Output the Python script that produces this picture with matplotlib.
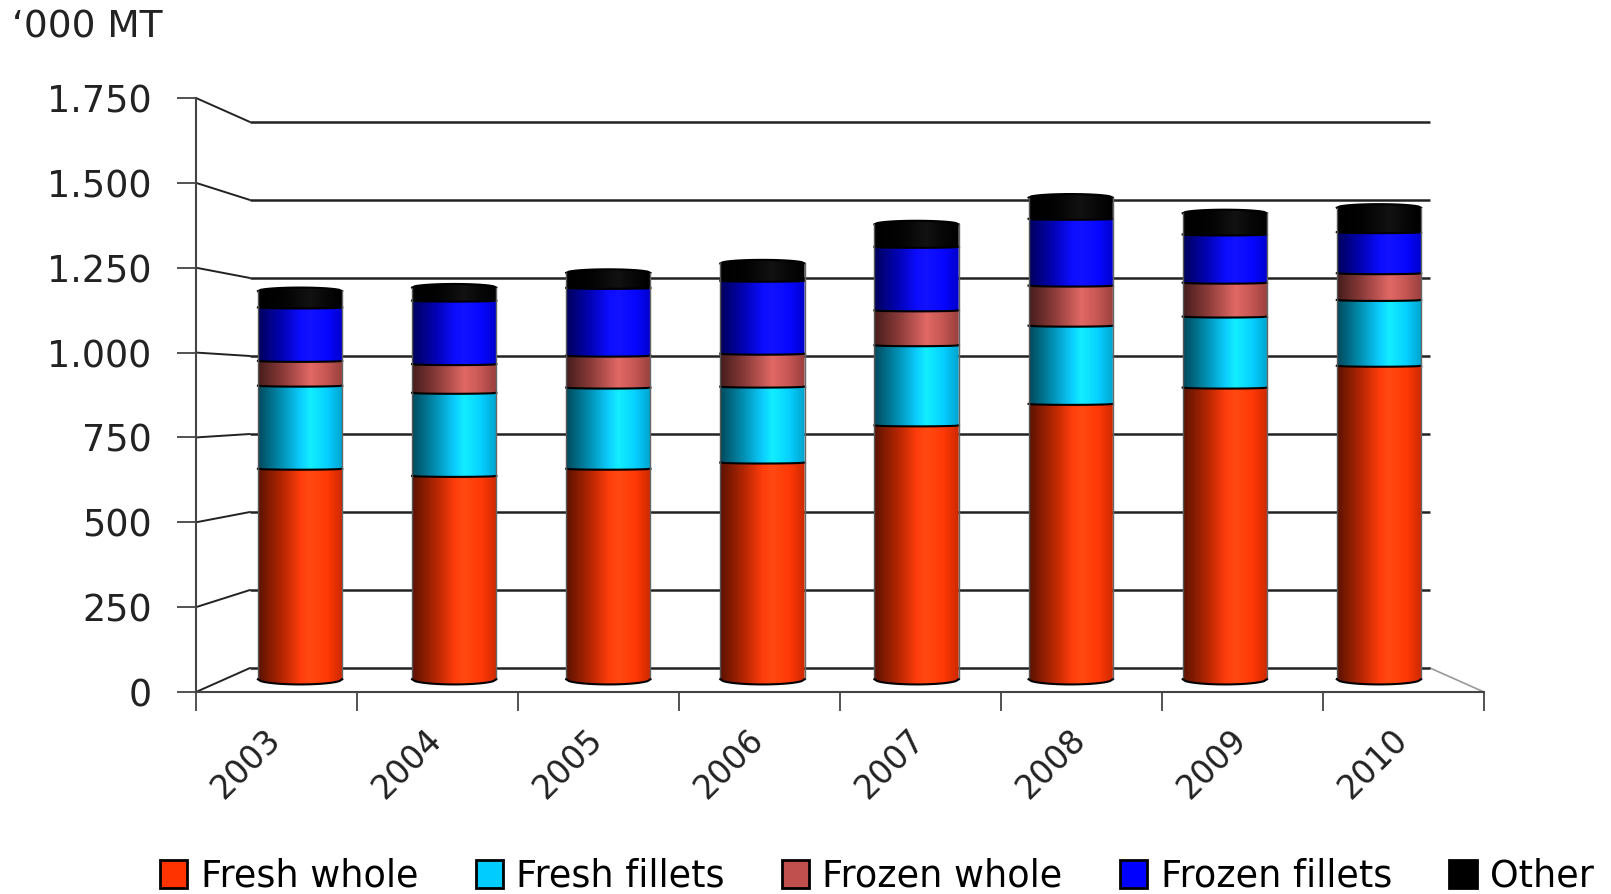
import numpy as np
import matplotlib.pyplot as plt
from matplotlib.patches import ConnectionPatch, Patch, PathPatch
from matplotlib.path import Path
from matplotlib.colors import to_rgb

plt.rcParams['font.family'] = ['DejaVu Sans']

years = ['2003', '2004', '2005', '2006', '2007', '2008', '2009', '2010']
fresh_whole = [646, 624, 646, 665, 779, 845, 895, 962]
fresh_fillets = [255, 255, 249, 233, 246, 240, 218, 202]
frozen_whole = [76, 88, 98, 101, 107, 123, 104, 82]
frozen_fillets = [164, 195, 208, 224, 195, 205, 148, 126]
other = [50, 40, 46, 53, 69, 65, 65, 75]
y_ticks = [0, 250, 500, 750, 1000, 1250, 1500, 1750]
y_labels = ['0', '250', '500', '750', '1.000', '1.250', '1.500', '1.750']

names = ['Fresh whole', 'Fresh fillets', 'Frozen whole', 'Frozen fillets', 'Other']
series = [fresh_whole, fresh_fillets, frozen_whole, frozen_fillets, other]
colors = ['#ff3300', '#00ccff', '#c0504d', '#0000ff', '#000000']

W, H = 1611, 894


def px_axes(x0, x1, y_bottom, y_top, z):
    ax = fig.add_axes([x0 / W, 1 - y_bottom / H, (x1 - x0) / W, (y_bottom - y_top) / H])
    ax.patch.set_alpha(0)
    ax.set_zorder(z)
    return ax


def cylinder_image(color):
    base = np.array(to_rgb(color))
    stops = [0, 0.3, 0.62, 0.8, 1]
    shade = [0.36, 0.72, 1.08, 1.0, 0.8]
    t = np.linspace(0, 1, 120)
    s = np.interp(t, stops, shade)
    lift = np.interp(t, stops, [0, 0.01, 0.07, 0.03, 0])
    return np.clip(base[None, None, :] * s[None, :, None] + lift[None, :, None], 0, 1)


def curve(x0, x1, y, sag):
    xs = np.linspace(x0, x1, 30)
    u = (xs - (x0 + x1) / 2) / ((x1 - x0) / 2)
    return xs, y - sag * np.sqrt(np.clip(1 - u ** 2, 0, 1))


fig = plt.figure(figsize=(W / 100, H / 100), dpi=100)

front = px_axes(196, 1484, 692, 98, 1)
back = px_axes(250, 1430, 668, 122, 2)
bars = px_axes(223, 1456, 689, 109, 3)

# back wall
back.set_xlim(0, 1)
back.set_ylim(0, 1750)
back.axis('off')
for v in y_ticks:
    back.plot([0, 1], [v, v], color='#222222', lw=1.8, solid_capstyle='butt', clip_on=False)

# front axis
front.set_xlim(0, 8)
front.set_ylim(0, 1750)
for s in ['top', 'right']:
    front.spines[s].set_visible(False)
for s in ['left', 'bottom']:
    front.spines[s].set_color('#444444')
    front.spines[s].set_linewidth(1.5)
front.set_yticks(y_ticks)
front.set_yticklabels(y_labels, fontsize=26.3, color='#222222')
front.tick_params(axis='y', length=14, width=1.3, color='#444444', pad=18)
front.set_xticks(range(9))
front.set_xticklabels([])
front.tick_params(axis='x', which='major', length=14, width=1.3, color='#444444')
front.set_xticks(np.arange(8) + 0.42, minor=True)
front.set_xticklabels(years, minor=True, fontsize=23.5, rotation=45, ha='right',
                      rotation_mode='anchor', color='#222222')
front.tick_params(axis='x', which='minor', length=0, pad=22)

# depth lines from the front axis to the back wall
for v in y_ticks:
    fig.add_artist(ConnectionPatch((0, v), (0, v), 'data', 'data', axesA=front, axesB=back,
                                   color='#222222', lw=1.4))
fig.add_artist(ConnectionPatch((8, 0), (1, 0), 'data', 'data', axesA=front, axesB=back,
                               color='#999999', lw=1.2))

# stacked cylinders, ylim starts below zero so the rounded base fits
width = 0.547
y_min = -30
bottoms = np.zeros(len(years))
bars.axis('off')
for i, (vals, col) in enumerate(zip(series, colors)):
    img = cylinder_image(col)
    for j, v in enumerate(vals):
        x0, x1 = j - width / 2, j + width / 2
        y0, y1 = bottoms[j], bottoms[j] + v
        bx, by = curve(x0, x1, y0, 16 if i == 0 else 3)
        tx, ty = curve(x0, x1, y1, -11 if i == 4 else 3)
        verts = list(zip(bx, by)) + list(zip(tx[::-1], ty[::-1])) + [(bx[0], by[0])]
        patch = PathPatch(Path(verts), facecolor='none', edgecolor='none')
        bars.add_patch(patch)
        im = bars.imshow(img, extent=[x0, x1, y0 - 20, y1 + 20], aspect='auto', zorder=2 + i)
        im.set_clip_path(patch)
        bars.plot(tx, ty, color='black', lw=1.5, zorder=8)
        bars.plot([x0, x0], [y0, y1], color='#555555', lw=1.0, zorder=8)
        bars.plot([x1, x1], [y0, y1], color='#666666', lw=1.0, zorder=8)
        if i == 0:
            bars.plot(bx, by, color='black', lw=1.5, zorder=8)
    bottoms += np.array(vals)
bars.set_xlim(-0.5, 7.5)
bars.set_ylim(y_min, 1750)

fig.text(12 / W, 1 - 27 / H, '‘000 MT', fontsize=27, va='center', ha='left', color='#222222')

handles = [Patch(facecolor=c, edgecolor='black', lw=2) for c in colors]
fig.legend(handles, names, loc='center', bbox_to_anchor=(877 / W, 1 - 876 / H), ncol=5,
           frameon=False, fontsize=26.4, handlelength=0.74, handleheight=0.8,
           handletextpad=0.36, columnspacing=1.57, borderpad=0, borderaxespad=0)

fig.savefig('out.png', dpi=100)
